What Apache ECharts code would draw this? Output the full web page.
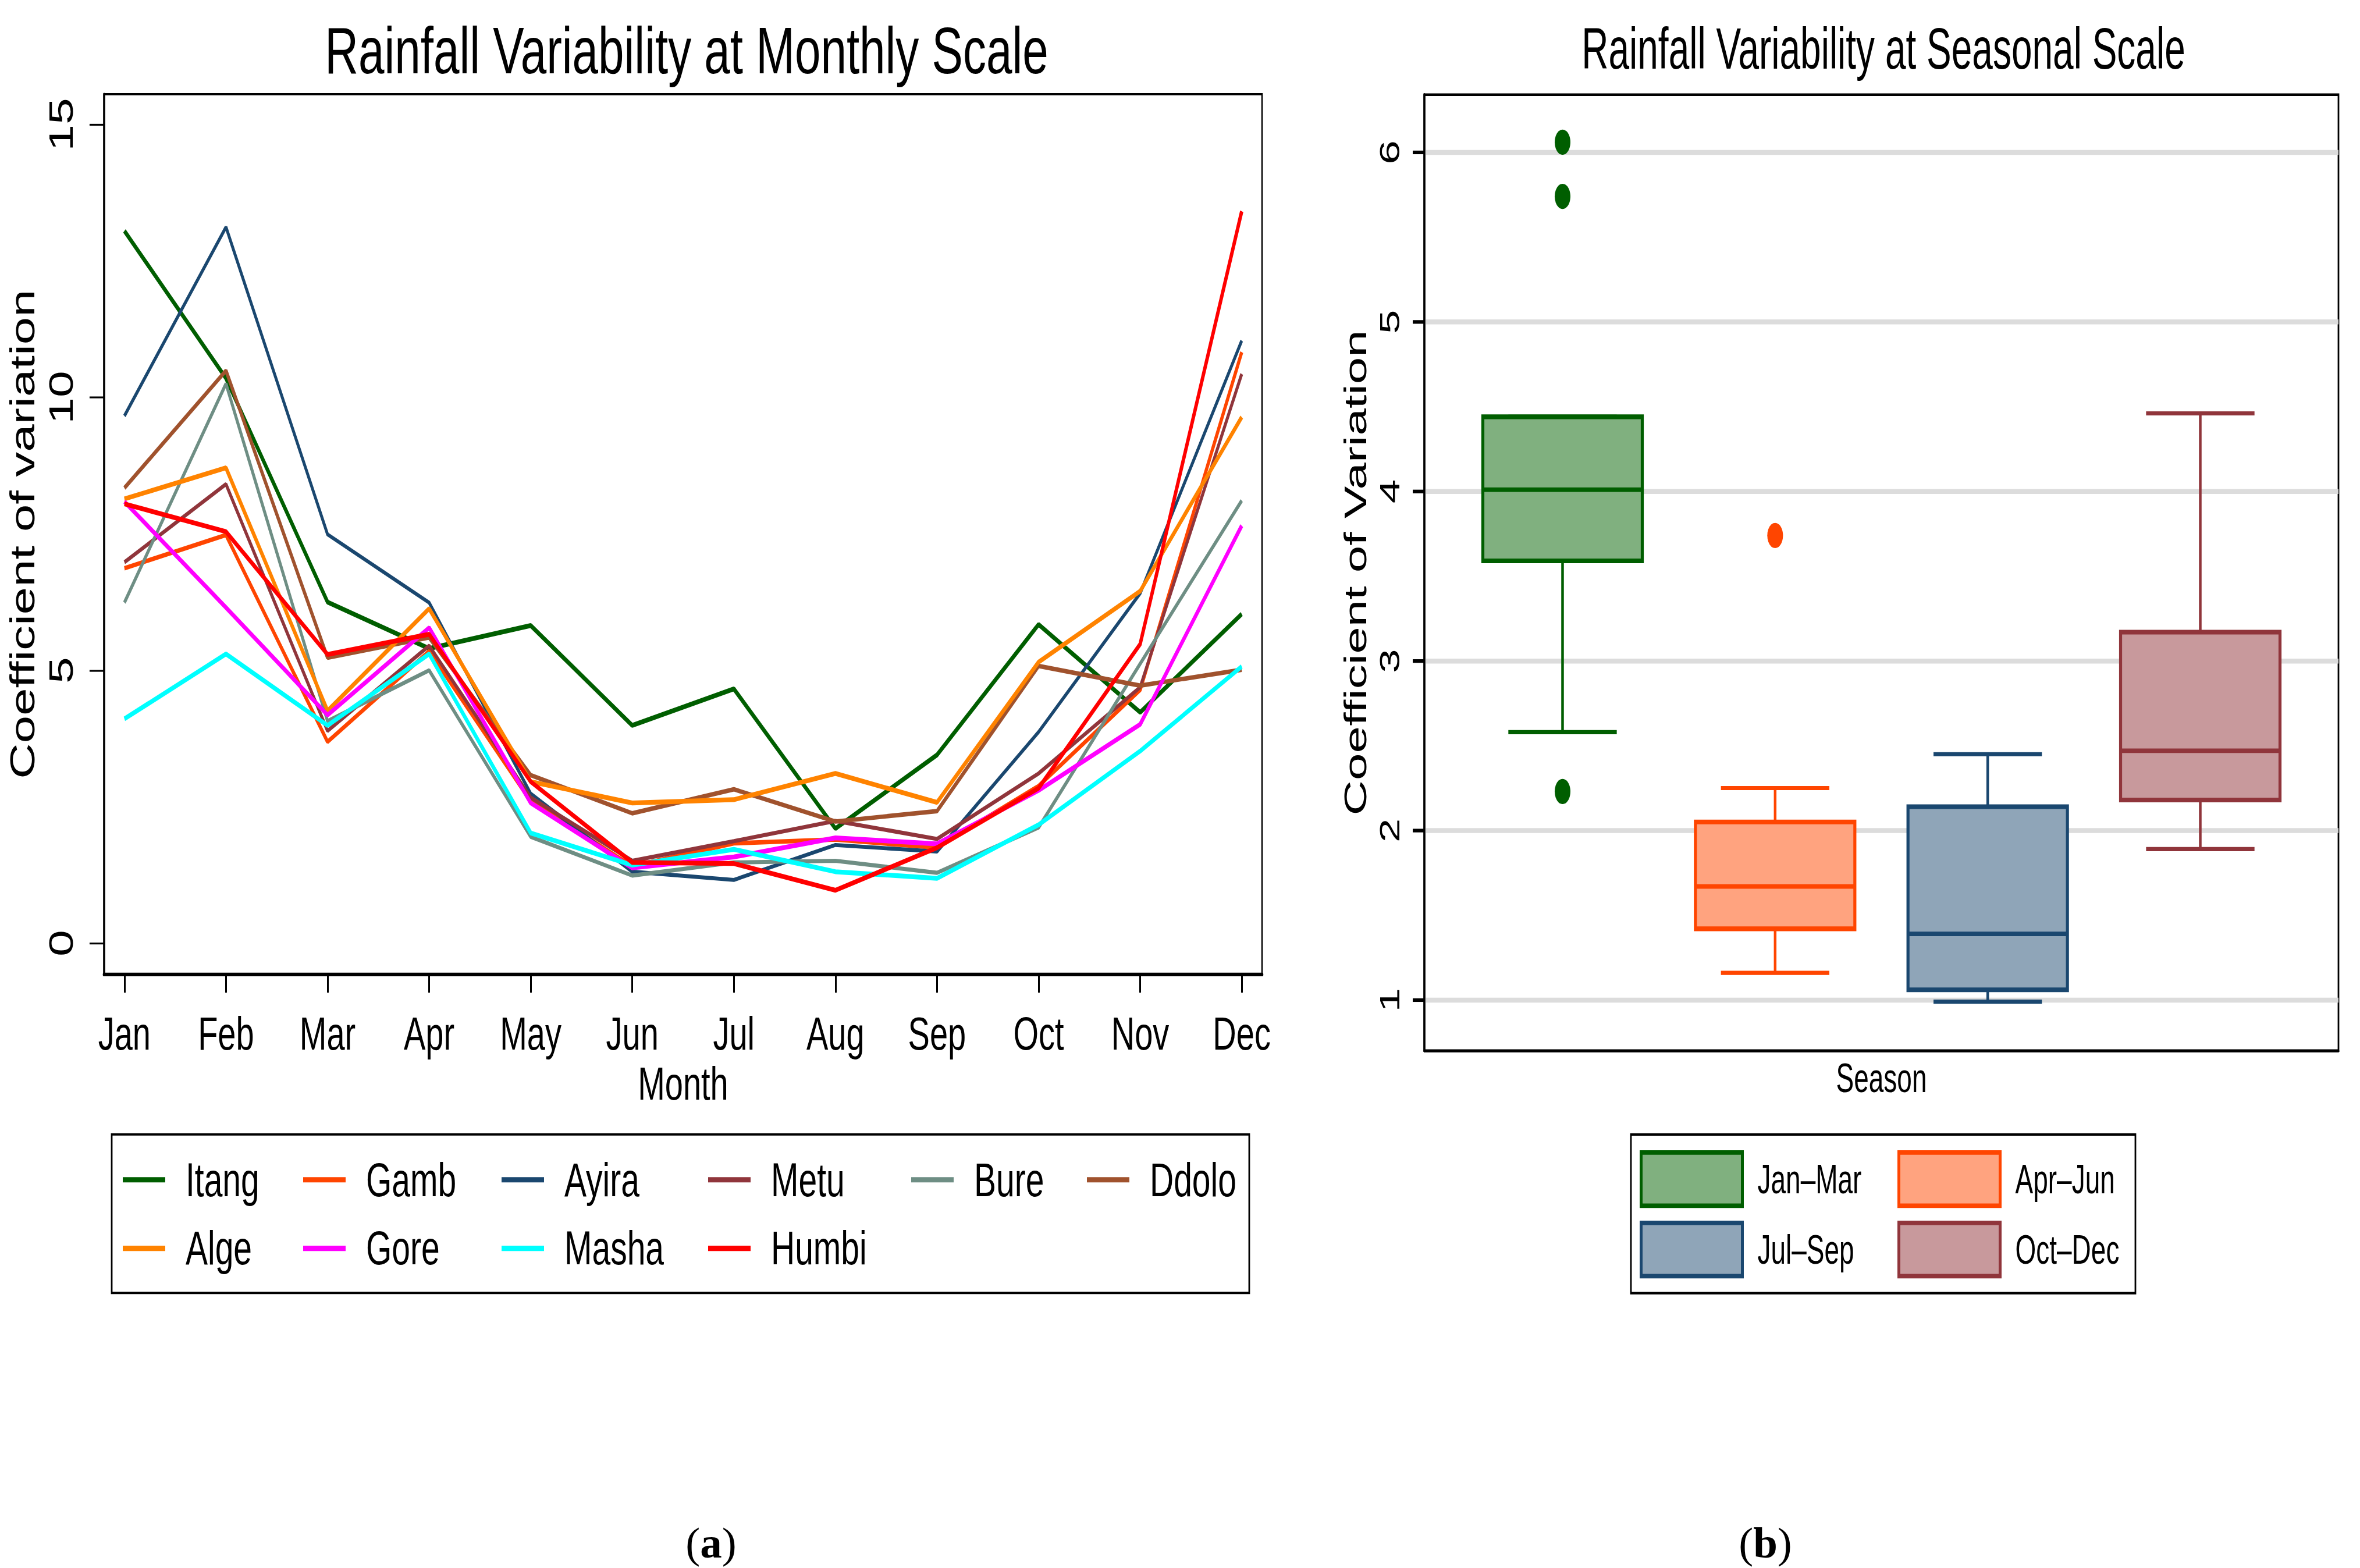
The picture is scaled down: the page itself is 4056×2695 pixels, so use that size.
<!DOCTYPE html>
<html>
<head>
<meta charset="utf-8">
<script src="https://cdn.jsdelivr.net/npm/echarts@6/dist/echarts.min.js"></script>
<style>
html,body{margin:0;padding:0;background:#fff;width:4056px;height:2695px;overflow:hidden;}
#left{position:absolute;left:0;top:0;width:2260px;height:1898px;transform:scaleY(1.42);transform-origin:0 0;}
#right{position:absolute;left:2260px;top:0;width:1796px;height:1739px;transform:scaleY(1.55);transform-origin:0 0;}
</style>
</head>
<body>
<div id="left"></div>
<div id="right"></div>
<script>
// ---------------- data: monthly coefficient of variation ----------------
const months = ['Jan','Feb','Mar','Apr','May','Jun','Jul','Aug','Sep','Oct','Nov','Dec'];
const stations = ['Itang','Gamb','Ayira','Metu','Bure','Ddolo','Alge','Gore','Masha','Humbi'];
const itang = [13.05, 10.35, 6.25, 5.40, 5.82, 3.99, 4.66, 2.10, 3.45, 5.84, 4.23, 6.03];
const gamb  = [6.87, 7.48, 3.69, 5.35, 2.60, 1.41, 1.83, 1.90, 1.75, 2.88, 4.64, 10.83];
const ayira = [9.66, 13.12, 7.49, 6.24, 2.74, 1.31, 1.16, 1.80, 1.68, 3.87, 6.41, 11.04];
const metu  = [6.98, 8.41, 3.89, 5.45, 2.67, 1.51, 1.87, 2.24, 1.91, 3.11, 4.69, 10.43];
const bure  = [6.24, 10.25, 4.07, 5.00, 1.95, 1.24, 1.48, 1.51, 1.29, 2.12, 5.12, 8.11];
const ddolo = [8.34, 10.49, 5.23, 5.60, 3.08, 2.38, 2.82, 2.23, 2.42, 5.08, 4.72, 5.01];
const alge  = [8.14, 8.71, 4.26, 6.13, 2.96, 2.57, 2.63, 3.11, 2.58, 5.15, 6.45, 9.64];
const gore  = [8.09, 6.15, 4.18, 5.78, 2.57, 1.38, 1.58, 1.93, 1.82, 2.80, 4.01, 7.65];
const masha = [4.11, 5.30, 3.99, 5.30, 2.02, 1.43, 1.72, 1.31, 1.19, 2.17, 3.52, 5.07];
const humbi = [8.05, 7.54, 5.29, 5.66, 2.96, 1.48, 1.46, 0.97, 1.75, 2.84, 5.48, 13.41];
const stationValues = [itang, gamb, ayira, metu, bure, ddolo, alge, gore, masha, humbi];
const yTicksMonthly = [0, 5, 10, 15];

// ---------------- data: seasonal box plots (min, Q1, median, Q3, max) ----------------
const seasons = ['Jan\u2013Mar', 'Apr\u2013Jun', 'Jul\u2013Sep', 'Oct\u2013Dec'];
const boxJanMar = [2.58, 3.59, 4.01, 4.44, 4.44];
const boxAprJun = [1.16, 1.42, 1.67, 2.05, 2.25];
const boxJulSep = [0.99, 1.06, 1.39, 2.14, 2.45];
const boxOctDec = [1.89, 2.18, 2.47, 3.17, 4.46];
const outliersJanMar = [6.06, 5.74, 2.23];
const outliersAprJun = [3.74];
const yTicksSeasonal = [1, 2, 3, 4, 5, 6];
const boxValues = [boxJanMar, boxAprJun, boxJulSep, boxOctDec];

// ---------------- styles ----------------
const FONT = '"Liberation Sans", Arial, Helvetica, sans-serif';
const stationColors = ['#005E00','#FF4500','#1A476F','#90353B','#6E8E84','#A0522D','#FF8300','#FF00FF','#00FFFF','#FF0000'];
const lineWidths = [5.8, 5.4, 4.8, 5.0, 5.0, 5.4, 5.8, 5.8, 5.8, 5.8];
const boxFill = ['#80B07F','#FFA37F','#8FA5B8','#C8999C'];
const boxLine = ['#005E00','#FF4500','#1A476F','#90353B'];
const SL = 1.42, SR = 1.55;

// ================= LEFT PANEL =================
const leftChart = echarts.init(document.getElementById('left'), null, {renderer: 'svg'});
const monthIdx = months.map((m, i) => i);
const legendColX = [211, 521, 862, 1217, 1566, 1868];
const legendCols = [['Itang','Alge'],['Gamb','Gore'],['Ayira','Masha'],['Metu','Humbi'],['Bure'],['Ddolo']];

leftChart.setOption({
  animation: false,
  backgroundColor: '#fff',
  title: {
    text: 'Rainfall Variability at Monthly Scale',
    left: 1180, top: 21, textAlign: 'center', padding: 0,
    textStyle: {fontFamily: FONT, fontSize: 80, fontWeight: 'normal', color: '#000'}
  },
  grid: {left: 172, top: 114, width: 1997, height: 1065, show: true, borderColor: '#000', borderWidth: 2.5},
  xAxis: {
    type: 'value', min: -0.2, max: 11.2,
    name: 'Month', nameLocation: 'middle', nameGap: 97,
    nameTextStyle: {fontFamily: FONT, fontSize: 56, color: '#000'},
    axisLine: {show: true, onZero: false, lineStyle: {color: '#000', width: 4.5}},
    axisTick: {show: true, customValues: monthIdx, length: 22.5, lineStyle: {color: '#000', width: 3}},
    axisLabel: {customValues: monthIdx, formatter: v => months[Math.round(v)], margin: 44,
      fontFamily: FONT, fontSize: 56, color: '#000'},
    splitLine: {show: false}
  },
  yAxis: {
    type: 'value', min: -0.565, max: 15.555,
    name: 'Coefficient of variation', nameLocation: 'middle', nameGap: 105,
    nameTextStyle: {fontFamily: FONT, fontSize: 60, color: '#000'},
    axisLine: {show: true, onZero: false, lineStyle: {color: '#000', width: 3.5}},
    axisTick: {show: true, customValues: yTicksMonthly, length: 25, lineStyle: {color: '#000', width: 2.2}},
    axisLabel: {customValues: yTicksMonthly, rotate: 90, margin: 45, fontFamily: FONT, fontSize: 58, color: '#000'},
    splitLine: {show: false}
  },
  legend: legendCols.map((names, k) => ({
    data: names, orient: 'vertical', left: legendColX[k], top: 1398, padding: 0,
    itemGap: 23, itemWidth: 73, itemHeight: 6.5, icon: 'rect', selectedMode: false,
    itemStyle: {borderWidth: 0},
    textStyle: {fontFamily: FONT, fontSize: 57, lineHeight: 60, color: '#000', padding: [0, 0, 0, 30]}
  })),
  series: stations.map((name, i) => ({
    type: 'line', name: name,
    data: stationValues[i].map((v, j) => [j, v]),
    symbol: 'none', showSymbol: false,
    lineStyle: {color: stationColors[i], width: lineWidths[i]},
    itemStyle: {color: stationColors[i]},
    z: 2 + i
  })),
  graphic: [
    {type: 'rect', shape: {x: 192, y: 1373, width: 1955, height: 192},
     style: {fill: 'none', stroke: '#000', lineWidth: 2.8}},
    {type: 'text', x: 1222, y: 2652 / SL, scaleY: 1 / SL,
     style: {text: '{p|(}{b|a}{p|)}', align: 'center', verticalAlign: 'middle',
       rich: {p: {fontFamily: '"Liberation Serif", serif', fontSize: 75, fill: '#000'},
              b: {fontFamily: '"Liberation Serif", serif', fontSize: 75, fontWeight: 'bold', fill: '#000'}}}}
  ]
});

// ================= RIGHT PANEL =================
const rightChart = echarts.init(document.getElementById('right'), null, {renderer: 'svg'});

function renderBox(params, api) {
  const i = params.seriesIndex;
  const x = api.value(0);
  const pts = [1, 2, 3, 4, 5].map(k => api.coord([x, api.value(k)]));
  const cx = pts[0][0];
  const yMin = pts[0][1], yQ1 = pts[1][1], yMed = pts[2][1], yQ3 = pts[3][1], yMax = pts[4][1];
  const bw = api.size([0.75, 0])[0];
  const cw = api.size([0.51, 0])[0];
  const stroke = boxLine[i];
  return {
    type: 'group',
    children: [
      {type: 'line', shape: {x1: cx, y1: yQ3, x2: cx, y2: yMax}, style: {stroke: stroke, lineWidth: 4.5}},
      {type: 'line', shape: {x1: cx, y1: yQ1, x2: cx, y2: yMin}, style: {stroke: stroke, lineWidth: 4.5}},
      {type: 'line', shape: {x1: cx - cw / 2, y1: yMax, x2: cx + cw / 2, y2: yMax}, style: {stroke: stroke, lineWidth: 4.6}},
      {type: 'line', shape: {x1: cx - cw / 2, y1: yMin, x2: cx + cw / 2, y2: yMin}, style: {stroke: stroke, lineWidth: 4.6}},
      {type: 'rect', shape: {x: cx - bw / 2, y: yQ3, width: bw, height: yQ1 - yQ3},
       style: {fill: boxFill[i], stroke: stroke, lineWidth: 5.2}},
      {type: 'line', shape: {x1: cx - bw / 2, y1: yMed, x2: cx + bw / 2, y2: yMed}, style: {stroke: stroke, lineWidth: 5}}
    ]
  };
}

const seasonLegendX = [558, 1001];
const seasonLegendCols = [[0, 2], [1, 3]];

const rightSeries = seasons.map((name, i) => ({
  type: 'custom', name: name,
  data: [[i + 1].concat(boxValues[i])],
  encode: {x: 0, y: [1, 2, 3, 4, 5]},
  itemStyle: {color: boxFill[i], borderColor: boxLine[i], borderWidth: 5},
  renderItem: renderBox, z: 3
}));
rightSeries.push({
  type: 'scatter', name: 'outliers Jan\u2013Mar',
  data: outliersJanMar.map(v => [1, v]),
  symbol: 'circle', symbolSize: [27, 28], itemStyle: {color: boxLine[0], opacity: 1}, z: 4
});
rightSeries.push({
  type: 'scatter', name: 'outliers Apr\u2013Jun',
  data: outliersAprJun.map(v => [2, v]),
  symbol: 'circle', symbolSize: [27, 28], itemStyle: {color: boxLine[1], opacity: 1}, z: 4
});

rightChart.setOption({
  animation: false,
  backgroundColor: '#fff',
  title: {
    text: 'Rainfall Variability at Seasonal Scale',
    left: 977, top: 22, textAlign: 'center', padding: 0,
    textStyle: {fontFamily: FONT, fontSize: 64, fontWeight: 'normal', color: '#000'}
  },
  grid: {left: 188, top: 105, width: 1571, height: 1060, show: true, borderColor: '#000', borderWidth: 2.8},
  xAxis: {
    type: 'value', min: 0.35, max: 4.65,
    name: 'Season', nameLocation: 'middle', nameGap: 7,
    nameTextStyle: {fontFamily: FONT, fontSize: 46, color: '#000'},
    axisLine: {show: true, onZero: false, lineStyle: {color: '#000', width: 3}},
    axisTick: {show: false}, axisLabel: {show: false}, splitLine: {show: false}
  },
  yAxis: {
    type: 'value', min: 0.7014, max: 6.34,
    name: 'Coefficient of Variation', nameLocation: 'middle', nameGap: 83,
    nameTextStyle: {fontFamily: FONT, fontSize: 54, color: '#000'},
    axisLine: {show: true, onZero: false, lineStyle: {color: '#000', width: 3.5}},
    axisTick: {show: true, customValues: yTicksSeasonal, length: 20, lineStyle: {color: '#000', width: 4}},
    axisLabel: {customValues: yTicksSeasonal, rotate: 90, margin: 36, fontFamily: FONT, fontSize: 48, color: '#000'},
    splitLine: {show: true, lineStyle: {color: '#DCDCDC', width: 5.5}}
  },
  legend: seasonLegendCols.map((idxs, k) => ({
    data: idxs.map(j => ({name: seasons[j], itemStyle: {color: boxFill[j], borderColor: boxLine[j], borderWidth: 5}})),
    orient: 'vertical', left: seasonLegendX[k], top: 1275.5, padding: 0,
    itemGap: 14, itemWidth: 174, itemHeight: 59, icon: 'rect', selectedMode: false,
    textStyle: {fontFamily: FONT, fontSize: 46, lineHeight: 50, color: '#000', padding: [0, 0, 0, 21]}
  })),
  series: rightSeries,
  graphic: [
    {type: 'rect', shape: {x: 543, y: 1258, width: 867, height: 176},
     style: {fill: 'none', stroke: '#000', lineWidth: 2.8}},
    {type: 'text', x: 774, y: 2652 / SR, scaleY: 1 / SR,
     style: {text: '{p|(}{b|b}{p|)}', align: 'center', verticalAlign: 'middle',
       rich: {p: {fontFamily: '"Liberation Serif", serif', fontSize: 75, fill: '#000'},
              b: {fontFamily: '"Liberation Serif", serif', fontSize: 75, fontWeight: 'bold', fill: '#000'}}}}
  ]
});
</script>
</body>
</html>
